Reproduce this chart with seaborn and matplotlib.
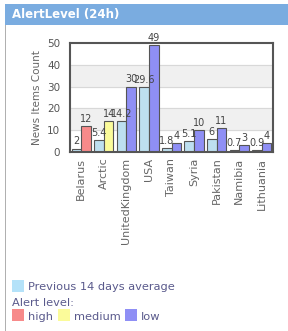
import matplotlib
matplotlib.use("Agg")
import matplotlib.pyplot as plt
import matplotlib.patches as mpatches
import seaborn as sns
import pandas as pd

countries = ['Belarus', 'Arctic', 'UnitedKingdom', 'USA', 'Taiwan', 'Syria', 'Pakistan', 'Namibia', 'Lithuania']
prev_avg = [1.6, 5.4, 14.2, 29.6, 1.8, 5.1, 6, 0.7, 0.9]
prev_labels = ['2', '5.4', '14.2', '29.6', '1.8', '5.1', '6', '0.7', '0.9']
current = [12, 14, 30, 49, 4, 10, 11, 3, 4]
current_labels = ['12', '14', '30', '49', '4', '10', '11', '3', '4']
alert = ['high', 'medium', 'low', 'low', 'low', 'low', 'low', 'low', 'low']

alert_colors = {'high': '#f78a8a', 'medium': '#fbfb9a', 'low': '#8f8ff5'}
prev_color = '#b4e2f9'
text_color = '#5a5a8c'

W, H = 288, 331
fig = plt.figure(figsize=(W / 100, H / 100), dpi=100)

def fx(px):
    return px / W

def fy(py):
    return 1 - py / H

# header bar
fig.patches.append(mpatches.Rectangle((fx(5), fy(25)), fx(283), 21 / H, transform=fig.transFigure,
                                      facecolor='#7aace0', edgecolor='none'))
fig.text(fx(12), fy(14.5), 'AlertLevel (24h)', color='white', fontsize=8.5, fontweight='bold', va='center')
fig.patches.append(mpatches.Rectangle((fx(5), 0), 1.2 / W, fy(25), transform=fig.transFigure,
                                      facecolor='#b0b0b0', edgecolor='none'))

ax = fig.add_axes([fx(70), fy(152), fx(203), 109 / H])

df = pd.DataFrame({
    'country': countries * 2,
    'value': prev_avg + current,
    'series': ['prev'] * len(countries) + ['cur'] * len(countries),
})
sns.barplot(data=df, x='country', y='value', hue='series', order=countries, hue_order=['prev', 'cur'],
            palette={'prev': prev_color, 'cur': '#8f8ff5'}, width=0.85, ax=ax, legend=False,
            edgecolor='#555555', linewidth=0.8)

# bands
for lo in (10, 30):
    ax.axhspan(lo, lo + 10, color='#f0f0f0', zorder=0)
for y in (10, 20, 30, 40):
    ax.axhline(y, color='#d8d8d8', lw=0.8, zorder=0.5)

n = len(countries)
bars = ax.patches[:2 * n]
for i, p in enumerate(bars[n:2 * n]):
    p.set_facecolor(alert_colors[alert[i]])

for i in range(n):
    pb = bars[i]
    cb = bars[n + i]
    ax.text(pb.get_x() + pb.get_width() / 2, pb.get_height() + 1, prev_labels[i],
            ha='center', va='bottom', fontsize=7, color='#444444')
    ax.text(cb.get_x() + cb.get_width() / 2, cb.get_height() + 1, current_labels[i],
            ha='center', va='bottom', fontsize=7, color='#444444')

ax.set_ylim(0, 50)
ax.set_xlim(-0.5, n - 0.5)
ax.set_yticks([0, 10, 20, 30, 40, 50])
ax.set_xlabel('')
ax.set_ylabel('News Items Count', color='#666666', fontsize=7.5, labelpad=4)
ax.tick_params(axis='y', labelsize=7.5, colors='#555555', length=0, pad=7)
ax.tick_params(axis='x', labelsize=8, colors='#666666', length=0, rotation=90, pad=4)
for s in ax.spines.values():
    s.set_color('#555555')
    s.set_linewidth(1.5)

# legend
def square(x, y, c):
    fig.patches.append(mpatches.Rectangle((fx(x), fy(y + 12)), 12 / W, 12 / H, transform=fig.transFigure,
                                          facecolor=c, edgecolor='none'))

fs = 8.2
square(12, 280, prev_color)
fig.text(fx(28), fy(290), 'Previous 14 days average', color=text_color, fontsize=fs, va='baseline')
fig.text(fx(12), fy(306), 'Alert level:', color=text_color, fontsize=fs, va='baseline')
square(12, 309, alert_colors['high'])
fig.text(fx(28), fy(320), 'high', color=text_color, fontsize=fs, va='baseline')
square(58, 309, alert_colors['medium'])
fig.text(fx(74), fy(320), 'medium', color=text_color, fontsize=fs, va='baseline')
square(125, 309, alert_colors['low'])
fig.text(fx(141), fy(320), 'low', color=text_color, fontsize=fs, va='baseline')

fig.savefig('out.png', dpi=100)
